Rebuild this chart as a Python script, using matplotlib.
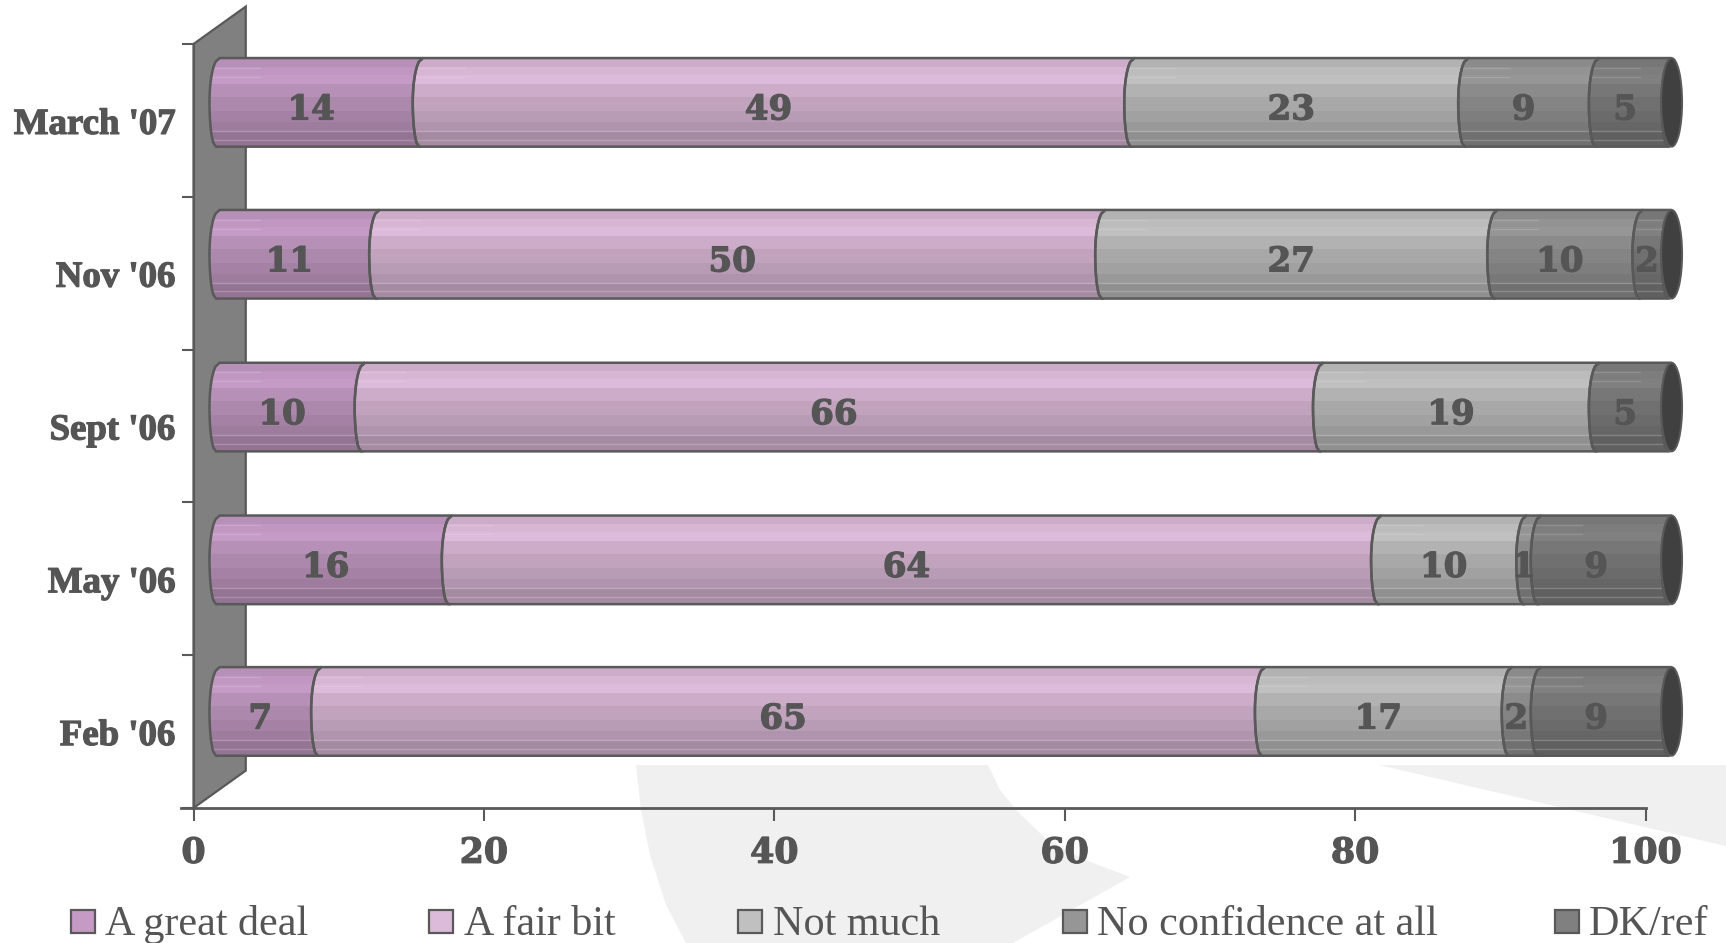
"""Stacked cylinder bar chart of confidence polls, drawn in a fake 3D style."""

import numpy as np
import matplotlib
matplotlib.use('Agg')
import matplotlib.pyplot as plt
import matplotlib.patheffects as pe
from matplotlib.patches import Ellipse, Polygon, Rectangle

periods = ["March '07", "Nov '06", "Sept '06", "May '06", "Feb '06"]
series_names = ['A great deal', 'A fair bit', 'Not much', 'No confidence at all', 'DK/ref']
great_deal = [14, 11, 10, 16, 7]
fair_bit = [49, 50, 66, 64, 65]
not_much = [23, 27, 19, 10, 17]
no_confidence = [9, 10, 0, 1, 2]
dk_ref = [5, 2, 5, 9, 9]
x_ticks = [0, 20, 40, 60, 80, 100]

series_colors = ['#c59bc5', '#dcbad9', '#c0c0c0', '#969696', '#808080']
legend_swatch_px = [71, 429, 738, 1063, 1555]
legend_text_px = [105, 464, 773, 1097, 1589]

TEXT = '#555555'
EDGE = '#595959'
W, H = 1726, 943
AX_LEFT, AX_TOP, AX_BOTTOM = 193.5, 44, 808
PX_PER_UNIT = 14.52
X_MAX = 105

# 3D offsets, in axis units
BAR_DX = 1.1
row_shift = [-0.118, -0.124, -0.124, -0.124, -0.132]
BAR_H = 0.58
WALL_DX = 3.6
WALL_DY = -0.245
CAP_HALF = 0.72

# shading of the cylinder, top to bottom
band_edges = [0, .10, .19, .29, .44, .59, .72, .83, 1]
band_shades = [.93, .98, 1.0, .93, .88, .84, .80, .75]
short_highlights = [.11, .21]
long_highlights = [.82, .92]

HEAVY = [pe.withStroke(linewidth=0.9, foreground=TEXT)]


def curve_x(x, n=25):
    """Return y fractions and x positions of a bulging segment boundary."""
    t = np.linspace(0, 1, n)
    depth = np.where(t < 0.5, 0.7, 0.45)
    return t, x + depth * (1 - np.sqrt(np.clip(1 - (2 * t - 1) ** 2, 0, 1)))


def band_image(color):
    """Build a one column RGB image with the cylinder's horizontal bands."""
    rgb = np.array(matplotlib.colors.to_rgb(color))
    rows = np.linspace(0, 1, 300, endpoint=False)
    idx = np.searchsorted(band_edges, rows, side='right') - 1
    shades = np.array(band_shades)[idx]
    return (shades[:, None] * rgb)[:, None, :]


def draw_segment(ax, start, value, y_center, color):
    """Draw one shaded piece of a cylinder between start and start + value."""
    top = y_center - BAR_H / 2
    t, left = curve_x(start)
    t2, right = curve_x(start + value)
    ys = top + t * BAR_H
    pts = np.vstack([np.column_stack([left, ys]),
                     np.column_stack([right, ys])[::-1]])
    outline = Polygon(pts, closed=True, fc='none', ec=EDGE, lw=1.8, zorder=4)
    ax.add_patch(outline)
    img = ax.imshow(band_image(color), extent=(start, start + value + 1, top + BAR_H, top),
                    aspect='auto', interpolation='nearest', zorder=3)
    img.set_clip_path(outline)
    for h in short_highlights:
        line, = ax.plot([start, start + min(value, 3.5)], [top + h * BAR_H] * 2,
                        color='white', alpha=0.14, lw=1, zorder=3.5)
        line.set_clip_path(outline)
    for h in long_highlights:
        line, = ax.plot([start, start + value + 1], [top + h * BAR_H] * 2,
                        color='white', alpha=0.2, lw=1, zorder=3.5)
        line.set_clip_path(outline)


def draw_wall(ax):
    """Draw the grey back wall that stands behind the bars."""
    wall = Polygon([(0, 5), (0, 0), (WALL_DX, WALL_DY), (WALL_DX, 5 + WALL_DY)],
                   closed=True, fc='#808080', ec=EDGE, lw=1.6, zorder=2, clip_on=False)
    ax.add_patch(wall)


def draw_background(fig):
    """Draw the pale watermark shapes behind the chart."""
    shapes = [
        [(636, 765), (641, 810), (650, 855), (666, 905), (686, 943), (1013, 943), (1130, 877),
         (1085, 860), (1045, 838), (1018, 812), (1000, 790), (988, 765)],
        [(1379, 765), (1726, 765), (1726, 846)],
    ]
    for shape in shapes:
        pts = [(x / W, 1 - y / H) for x, y in shape]
        fig.add_artist(Polygon(pts, closed=True, fc='#f0f0f0', ec='none',
                               transform=fig.transFigure, zorder=-5))


def draw_legend(fig):
    """Draw the legend row along the bottom edge of the figure."""
    for name, color, sx, tx in zip(series_names, series_colors, legend_swatch_px, legend_text_px):
        fig.add_artist(Rectangle((sx / W, 1 - 933 / H), 24 / W, 23 / H, fc=color, ec=EDGE,
                                 lw=1.6, transform=fig.transFigure))
        fig.text(tx / W, 1 - 935 / H, name, family='Liberation Serif', fontsize=30.3,
                 color=TEXT, ha='left', va='baseline')


def main():
    """Build the figure and save it as out.png."""
    fig = plt.figure(figsize=(W / 100, H / 100), dpi=100, facecolor='white')
    draw_background(fig)
    ax = fig.add_axes([AX_LEFT / W, 1 - AX_BOTTOM / H,
                       X_MAX * PX_PER_UNIT / W, (AX_BOTTOM - AX_TOP) / H])
    ax.patch.set_alpha(0)

    draw_wall(ax)
    table = np.array([great_deal, fair_bit, not_much, no_confidence, dk_ref], dtype=float)

    for row in range(len(periods)):
        y_center = row + 0.5 + row_shift[row]
        start = BAR_DX
        for col, color in enumerate(series_colors):
            value = table[col, row]
            if value == 0:
                continue
            draw_segment(ax, start, value, y_center, color)
            ax.text(start + value / 2, y_center + 0.05, f'{value:.0f}', ha='center', va='center',
                    family='DejaVu Serif', weight='bold', fontsize=24.5, color=TEXT, zorder=6,
                    path_effects=HEAVY)
            start += value
        cap = Ellipse((start + 0.7, y_center), 2 * CAP_HALF, BAR_H, fc='#404040', ec=EDGE,
                      lw=1.4, zorder=5)
        ax.add_patch(cap)

    ax.set_xlim(0, X_MAX)
    ax.set_ylim(5, 0)
    ax.set_xticks(x_ticks)
    ax.set_yticks(np.arange(6))
    ax.set_yticks(np.arange(5) + 0.5, labels=periods, minor=True)
    ax.set_yticklabels([])
    ax.tick_params(axis='y', which='major', length=9, width=1.5, color=EDGE)
    ax.tick_params(axis='y', which='minor', length=0, pad=13, labelsize=26.5, labelcolor=TEXT)
    ax.tick_params(axis='x', length=9, width=1.5, color=EDGE, pad=11, labelsize=25, labelcolor=TEXT)
    for label in ax.get_yticklabels(minor=True):
        label.set_family('Liberation Serif')
        label.set_weight('bold')
        label.set_path_effects(HEAVY)
    for label in ax.get_xticklabels():
        label.set_family('DejaVu Serif')
        label.set_weight('bold')
        label.set_path_effects(HEAVY)

    ax.spines['top'].set_visible(False)
    ax.spines['right'].set_visible(False)
    ax.spines['left'].set_color(EDGE)
    ax.spines['bottom'].set_color(EDGE)
    ax.spines['bottom'].set_linewidth(2)
    ax.spines['bottom'].set_bounds(-13 / PX_PER_UNIT, 100)

    draw_legend(fig)
    fig.savefig('out.png', dpi=100)
    plt.close(fig)


if __name__ == '__main__':
    main()
